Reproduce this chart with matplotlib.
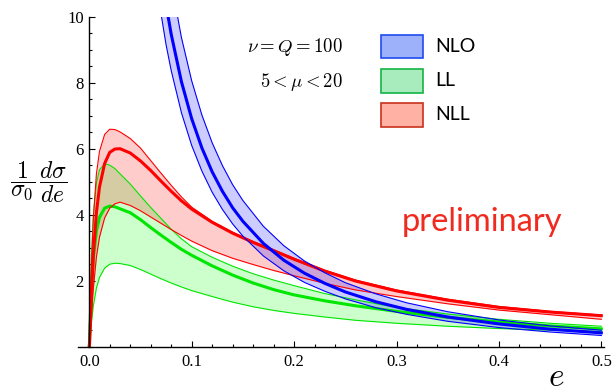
import matplotlib
matplotlib.use("Agg")
import matplotlib.pyplot as plt
from matplotlib.patches import Rectangle
from matplotlib.ticker import MultipleLocator, FormatStrFormatter

plt.rcParams['mathtext.fontset'] = 'cm'

# ---------------- data ----------------
e_grid = [0, 0.0003, 0.001, 0.002, 0.004, 0.007, 0.01, 0.015, 0.02, 0.025, 0.03,
          0.04, 0.05, 0.06, 0.07, 0.08, 0.09, 0.1, 0.12, 0.14, 0.16, 0.18, 0.2,
          0.23, 0.26, 0.3, 0.35, 0.4, 0.45, 0.5]

nll_central = [0, 0.10, 0.65, 1.48, 2.78, 4.07, 4.84, 5.55, 5.89, 5.99, 6.00,
               5.87, 5.63, 5.34, 5.02, 4.71, 4.42, 4.17, 3.77, 3.44, 3.16, 2.91, 2.65,
               2.29, 1.99, 1.69, 1.41, 1.19, 1.05, 0.94]
nll_high = [0, 0.24, 1.18, 2.35, 3.90, 5.24, 5.92, 6.43, 6.59, 6.58, 6.51,
            6.31, 6.02, 5.64, 5.26, 4.89, 4.54, 4.23, 3.80, 3.47, 3.19, 2.94, 2.68,
            2.32, 2.02, 1.72, 1.44, 1.22, 1.07, 0.96]
nll_low = [0, 0.05, 0.37, 0.89, 1.77, 2.72, 3.32, 3.90, 4.20, 4.33, 4.38,
           4.28, 4.12, 3.93, 3.74, 3.55, 3.37, 3.20, 2.91, 2.68, 2.49, 2.31, 2.15,
           1.92, 1.72, 1.52, 1.30, 1.11, 0.97, 0.83]

ll_central = [0, 0.19, 0.86, 1.65, 2.67, 3.51, 3.92, 4.20, 4.26, 4.24, 4.18,
              4.06, 3.85, 3.61, 3.38, 3.16, 2.95, 2.77, 2.45, 2.17, 1.93, 1.73, 1.57,
              1.39, 1.24, 1.07, 0.89, 0.75, 0.63, 0.54]
ll_high = [0, 0.40, 1.54, 2.68, 3.99, 4.96, 5.36, 5.54, 5.50, 5.40, 5.24,
           4.93, 4.57, 4.22, 3.89, 3.56, 3.27, 3.03, 2.71, 2.44, 2.21, 2.02, 1.85,
           1.61, 1.42, 1.19, 0.99, 0.83, 0.71, 0.62]
ll_low = [0, 0.05, 0.31, 0.68, 1.24, 1.78, 2.10, 2.38, 2.50, 2.53, 2.52,
          2.46, 2.34, 2.20, 2.06, 1.93, 1.81, 1.70, 1.52, 1.35, 1.21, 1.10, 1.01,
          0.90, 0.80, 0.71, 0.62, 0.55, 0.50, 0.46]

e_nlo = [0.06, 0.065, 0.07, 0.075, 0.08, 0.09, 0.1, 0.11, 0.12, 0.13, 0.14, 0.15,
         0.17, 0.19, 0.21, 0.23, 0.25, 0.28, 0.31, 0.35, 0.4, 0.45, 0.5]
nlo_central = [14.07, 12.6, 11.4, 10.36, 9.47, 8.03, 6.91, 6.02, 5.30, 4.71, 4.21, 3.80,
               3.13, 2.62, 2.23, 1.92, 1.66, 1.36, 1.13, 0.90, 0.69, 0.53, 0.42]
nlo_low = [12.4, 11.1, 10.1, 9.15, 8.37, 7.09, 6.10, 5.32, 4.68, 4.16, 3.72, 3.35,
           2.75, 2.30, 1.95, 1.68, 1.45, 1.18, 0.98, 0.77, 0.58, 0.445, 0.34]
nlo_high = [16.4, 14.7, 13.3, 12.1, 11.05, 9.37, 8.06, 7.02, 6.18, 5.49, 4.91, 4.43,
            3.65, 3.06, 2.60, 2.24, 1.94, 1.60, 1.33, 1.06, 0.81, 0.63, 0.50]

legend_labels = ["NLO", "LL", "NLL"]
x_ticks = [0.0, 0.1, 0.2, 0.3, 0.4, 0.5]
y_ticks = [2, 4, 6, 8, 10]

# ---------------- figure ----------------
W, H = 614, 391
fig = plt.figure(figsize=(W / 100, H / 100), dpi=100)
x0, x1 = -0.0108, 0.503
left_px, right_px = 78.2, 604.4
bot_px, top_px = 346.7, 16.7
ax = fig.add_axes([left_px / W, 1 - bot_px / H, (right_px - left_px) / W, (bot_px - top_px) / H])
ax.set_xlim(x0, x1)
ax.set_ylim(0, 10)

RED = (1, 0, 0)
GREEN = (0, 0.9, 0)
BLUE = (0, 0, 1)

# fills
ax.fill_between(e_grid, ll_low, ll_high, color=(0, 1, 0), alpha=0.2, lw=0)
ax.fill_between(e_grid, nll_low, nll_high, color=(1, 0, 0), alpha=0.2, lw=0)
ax.fill_between(e_nlo, nlo_low, nlo_high, color=(0, 0, 1), alpha=0.2, lw=0)

# lines
for ys in (ll_low, ll_high):
    ax.plot(e_grid, ys, color=GREEN, lw=0.8)
ax.plot(e_grid, ll_central, color=GREEN, lw=2.2)
for ys in (nll_low, nll_high):
    ax.plot(e_grid, ys, color=RED, lw=0.8)
ax.plot(e_grid, nll_central, color=RED, lw=2.2)
for ys in (nlo_low, nlo_high):
    ax.plot(e_nlo, ys, color=BLUE, lw=0.8)
ax.plot(e_nlo, nlo_central, color=BLUE, lw=2.2)

# axes styling (Mathematica-like)
for s in ('top', 'right'):
    ax.spines[s].set_visible(False)
ax.spines['left'].set_position(('data', 0))
ax.spines['left'].set_linewidth(1.0)
ax.spines['bottom'].set_linewidth(1.0)
ax.set_xticks(x_ticks)
ax.set_yticks(y_ticks)
ax.xaxis.set_major_formatter(FormatStrFormatter('%.1f'))
ax.xaxis.set_minor_locator(MultipleLocator(0.02))
ax.yaxis.set_minor_locator(MultipleLocator(0.5))
ax.tick_params(which='both', direction='in', width=0.8)
ax.tick_params(which='major', length=4.5)
ax.tick_params(which='minor', length=2.5)
ax.tick_params(axis='x', pad=5)
ax.tick_params(axis='y', pad=4)
for lab in ax.get_xticklabels() + ax.get_yticklabels():
    lab.set_fontfamily('Liberation Serif')
    lab.set_fontsize(12)

# axis labels
fig.text(39 / W, 1 - 182 / H, r'$\dfrac{1}{\sigma_0}\,\dfrac{d\sigma}{de}$',
         ha='center', va='center', fontsize=17)
fig.text(556 / W, 1 - 376 / H, r'$e$', ha='center', va='center', fontsize=24)

# annotations
fig.text(295 / W, 1 - 47 / H, r'$\nu = Q = 100$', ha='center', va='center', fontsize=13.5)
fig.text(301 / W, 1 - 82 / H, r'$5 < \mu < 20$', ha='center', va='center', fontsize=13.5)
fig.text(482 / W, 1 - 222 / H, 'preliminary', ha='center', va='center',
         fontsize=23.5, color='#F02A1E', family='Lato')

# legend boxes
box_fc = ['#9DB0FA', '#A8EBBC', '#FFB2A4']
box_ec = ['#1E4BF0', '#14B444', '#C8321E']
box_top = [35.0, 69.3, 103.3]
for lab, fc, ec, ty in zip(legend_labels, box_fc, box_ec, box_top):
    fig.patches.append(Rectangle((380.7 / W, 1 - (ty + 23.3) / H), 42 / W, 23.3 / H,
                                 transform=fig.transFigure, facecolor=fc,
                                 edgecolor=ec, lw=1.2))
    fig.text(435 / W, 1 - (ty + 11.7) / H, lab, ha='left', va='center',
             fontsize=14, family='Lato', color='black')

fig.savefig('out.png', dpi=100)
